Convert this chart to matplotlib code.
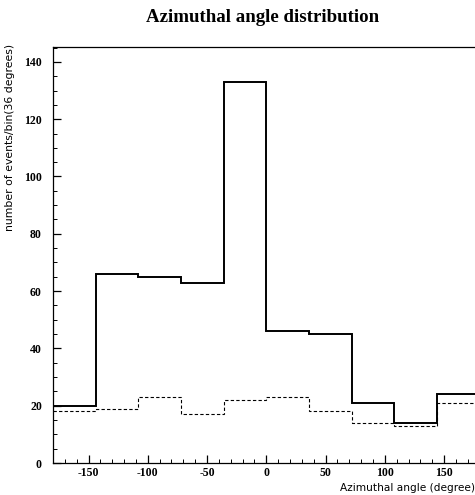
import matplotlib
matplotlib.use("Agg")
import matplotlib.pyplot as plt
from matplotlib.ticker import MultipleLocator

plt.rcParams["axes.unicode_minus"] = False

bin_edges = [-180, -144, -108, -72, -36, 0, 36, 72, 108, 144, 180]
solid_counts = [20, 66, 65, 63, 133, 46, 45, 21, 14, 24]
dashed_counts = [18, 19, 23, 17, 22, 23, 18, 14, 13, 21]
x_ticks = [-150, -100, -50, 0, 50, 100, 150]
y_ticks = [0, 20, 40, 60, 80, 100, 120, 140]

fig = plt.figure(figsize=(4.75, 4.95), dpi=100)
ax = fig.add_axes([53/475, 32/495, 426.6/475, 416/495])

ax.stairs(solid_counts, bin_edges, color="black", linewidth=1.4, baseline=None)
ax.stairs(dashed_counts, bin_edges, color="black", linewidth=0.8,
          linestyle=(0, (3, 2)), baseline=None)

ax.set_xlim(-180, 180)
ax.set_ylim(0, 145.2)
ax.set_xticks(x_ticks)
ax.set_yticks(y_ticks)
ax.xaxis.set_minor_locator(MultipleLocator(10))
ax.yaxis.set_minor_locator(MultipleLocator(5))
ax.tick_params(which="both", direction="in", top=False, right=False)
ax.tick_params(which="major", length=6, width=0.9)
ax.tick_params(which="minor", length=3, width=0.7)
for lab in ax.get_xticklabels() + ax.get_yticklabels():
    lab.set_fontfamily("Liberation Serif")
    lab.set_fontweight("bold")
    lab.set_fontsize(8.5)
ax.tick_params(axis="x", pad=3)
ax.tick_params(axis="y", pad=8)
for s in ax.spines.values():
    s.set_linewidth(0.9)

fig.text(263/475, 1 - 17/495, "Azimuthal angle distribution",
         family="Liberation Serif", weight="bold", fontsize=13.6,
         ha="center", va="center")
fig.text(10/475, 1 - 137/495, "number of events/bin(36 degrees)",
         family="DejaVu Sans", fontsize=7.8, rotation=90,
         ha="center", va="center")
fig.text(340/475, 1 - 488/495, "Azimuthal angle (degree)",
         family="DejaVu Sans", fontsize=7.6, ha="left", va="center")

fig.savefig("out.png", dpi=100)
